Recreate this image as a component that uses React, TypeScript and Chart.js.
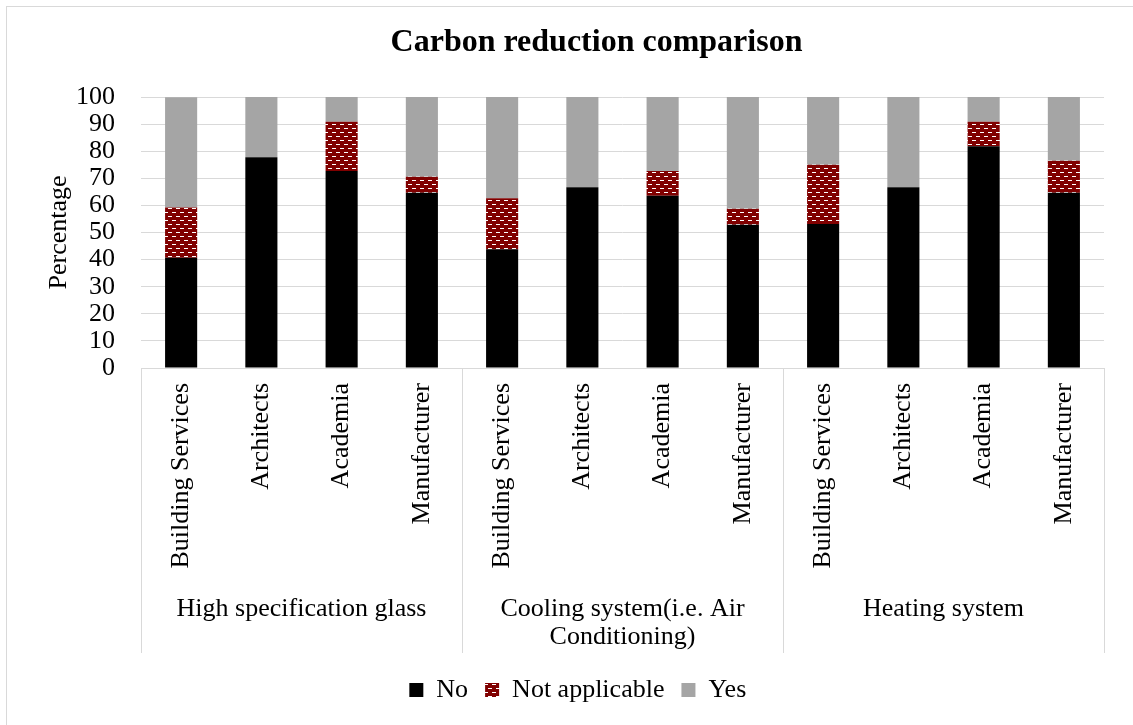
import React, { useEffect, useRef } from "react";
import { Chart, registerables } from "chart.js";

Chart.register(...registerables);

// ---- Data ----
const categories = [
  "Building Services", "Architects", "Academia", "Manufacturer",
  "Building Services", "Architects", "Academia", "Manufacturer",
  "Building Services", "Architects", "Academia", "Manufacturer",
];
const groups: (string | string[])[] = [
  "High specification glass",
  ["Cooling system(i.e. Air", "Conditioning)"],
  "Heating system",
];
const seriesNames = ["No", "Not applicable", "Yes"];
const noValues = [40.7, 77.8, 72.7, 64.7, 43.8, 66.7, 63.6, 52.9, 53.1, 66.7, 81.8, 64.7];
const naValues = [18.5, 0, 18.2, 5.9, 18.8, 0, 9.1, 5.9, 21.9, 0, 9.1, 11.8];
const yesValues = [40.7, 22.2, 9.1, 29.4, 37.5, 33.3, 27.3, 41.2, 25.0, 33.3, 9.1, 23.5];
const yMin = 0;
const yMax = 100;
const yStep = 10;

const FONT = "'Liberation Serif', 'Times New Roman', Times, serif";
const GRID = "#d9d9d9";
const GROUP_BOX_HEIGHT = 78;

function makePattern(): CanvasPattern | string {
  const c = document.createElement("canvas");
  c.width = 8;
  c.height = 8;
  const g = c.getContext("2d");
  if (!g) return "#800000";
  g.fillStyle = "#800000";
  g.fillRect(0, 0, 8, 8);
  g.fillStyle = "#ffffff";
  g.fillRect(1, 1, 4, 1);
  g.fillRect(5, 5, 3, 1);
  g.fillRect(0, 5, 1, 1);
  const p = g.createPattern(c, "repeat");
  return p || "#800000";
}

export default function App() {
  const ref = useRef<HTMLCanvasElement>(null);

  useEffect(() => {
    const canvas = ref.current;
    if (!canvas) return;
    const pattern = makePattern();

    const groupSeparators = {
      id: "groupSeparators",
      afterLayout(chart: any) {
        const lg = chart.legend;
        if (lg) {
          lg.left -= 18.7;
          lg.right -= 18.7;
        }
      },
      afterDraw(chart: any) {
        const x = chart.scales.x;
        const x2 = chart.scales.x2;
        if (!x || !x2) return;
        const ctx = chart.ctx;
        const n = categories.length;
        const per = n / groups.length;
        ctx.save();
        ctx.strokeStyle = GRID;
        ctx.lineWidth = 1;
        for (let g = 0; g <= groups.length; g++) {
          const i = g * per;
          let px: number;
          if (i === 0) px = x.left;
          else if (i >= n) px = x.right;
          else px = (x.getPixelForValue(i - 1) + x.getPixelForValue(i)) / 2;
          px = Math.round(px) + 0.5;
          ctx.beginPath();
          ctx.moveTo(px, x.top);
          ctx.lineTo(px, x2.top + GROUP_BOX_HEIGHT);
          ctx.stroke();
        }
        ctx.restore();
      },
    };

    const chart = new Chart(canvas, {
      type: "bar",
      data: {
        labels: categories,
        datasets: [
          {
            label: seriesNames[0],
            data: noValues,
            backgroundColor: "#000000",
            borderWidth: 0,
            xAxisID: "x",
            yAxisID: "y",
          },
          {
            label: seriesNames[1],
            data: naValues,
            backgroundColor: pattern as any,
            borderWidth: 0,
            xAxisID: "x",
            yAxisID: "y",
          },
          {
            label: seriesNames[2],
            data: yesValues,
            backgroundColor: "#a5a5a5",
            borderWidth: 0,
            xAxisID: "x",
            yAxisID: "y",
          },
        ],
      },
      options: {
        animation: false,
        responsive: false,
        devicePixelRatio: 1,
        layout: { padding: { top: 0, left: 0, right: 0, bottom: 30 } },
        datasets: {
          bar: { barPercentage: 0.4, categoryPercentage: 1 },
        },
        plugins: {
          title: {
            display: true,
            text: "Carbon reduction comparison",
            color: "#000",
            font: { family: FONT, size: 32, weight: "bold", lineHeight: 1.2 },
            padding: { top: 17, bottom: 34.6 },
          },
          legend: {
            display: true,
            position: "bottom",
            labels: {
              color: "#000",
              font: { family: FONT, size: 26 },
              boxWidth: 14,
              boxHeight: 14,
              padding: 17,
            },
          },
          tooltip: { enabled: false },
        },
        scales: {
          x: {
            type: "category",
            position: "bottom",
            stacked: true,
            offset: true,
            grid: { display: false, drawTicks: false },
            border: { display: true, color: GRID, width: 1 },
            ticks: {
              color: "#000",
              font: { family: FONT, size: 26 },
              minRotation: 90,
              maxRotation: 90,
              autoSkip: false,
              padding: 15,
            },
            afterFit(scale: any) {
              scale.height = 207;
            },
          },
          x2: {
            type: "category",
            position: "bottom",
            labels: groups as any,
            offset: true,
            grid: { display: false, drawTicks: false },
            border: { display: false },
            ticks: {
              color: "#000",
              font: { family: FONT, size: 26, lineHeight: 1.05 },
              maxRotation: 0,
              minRotation: 0,
              autoSkip: false,
              padding: 21,
            },
            afterFit(scale: any) {
              scale.height = GROUP_BOX_HEIGHT + 7;
            },
          },
          y: {
            type: "linear",
            position: "left",
            stacked: true,
            min: yMin,
            max: yMax,
            grid: { color: GRID, lineWidth: 1, drawTicks: false },
            border: { display: false },
            ticks: {
              stepSize: yStep,
              autoSkip: false,
              color: "#000",
              font: { family: FONT, size: 26, lineHeight: 0.9 },
              padding: 26,
            },
            title: {
              display: true,
              text: "Percentage",
              color: "#000",
              font: { family: FONT, size: 26, lineHeight: 1.2 },
              padding: { top: 36.5, bottom: 0 },
            },
            afterFit(scale: any) {
              scale.width = 134;
            },
          },
          y2: {
            type: "linear",
            position: "right",
            display: true,
            grid: { display: false, drawTicks: false },
            border: { display: false },
            ticks: { display: false },
            afterFit(scale: any) {
              scale.width = 82;
            },
          },
        },
      } as any,
      plugins: [groupSeparators],
    });

    return () => {
      chart.destroy();
    };
  }, []);

  return (
    <div
      style={{
        position: "absolute",
        left: 0,
        top: 0,
        width: 1133,
        height: 725,
        overflow: "hidden",
        background: "#fff",
      }}
    >
      <div
        style={{
          position: "absolute",
          left: 6,
          top: 6,
          width: 1179,
          height: 736,
          border: `1px solid ${GRID}`,
          background: "#fff",
        }}
      >
        <canvas ref={ref} width={1179} height={736} style={{ display: "block", width: 1179, height: 736 }} />
      </div>
    </div>
  );
}
